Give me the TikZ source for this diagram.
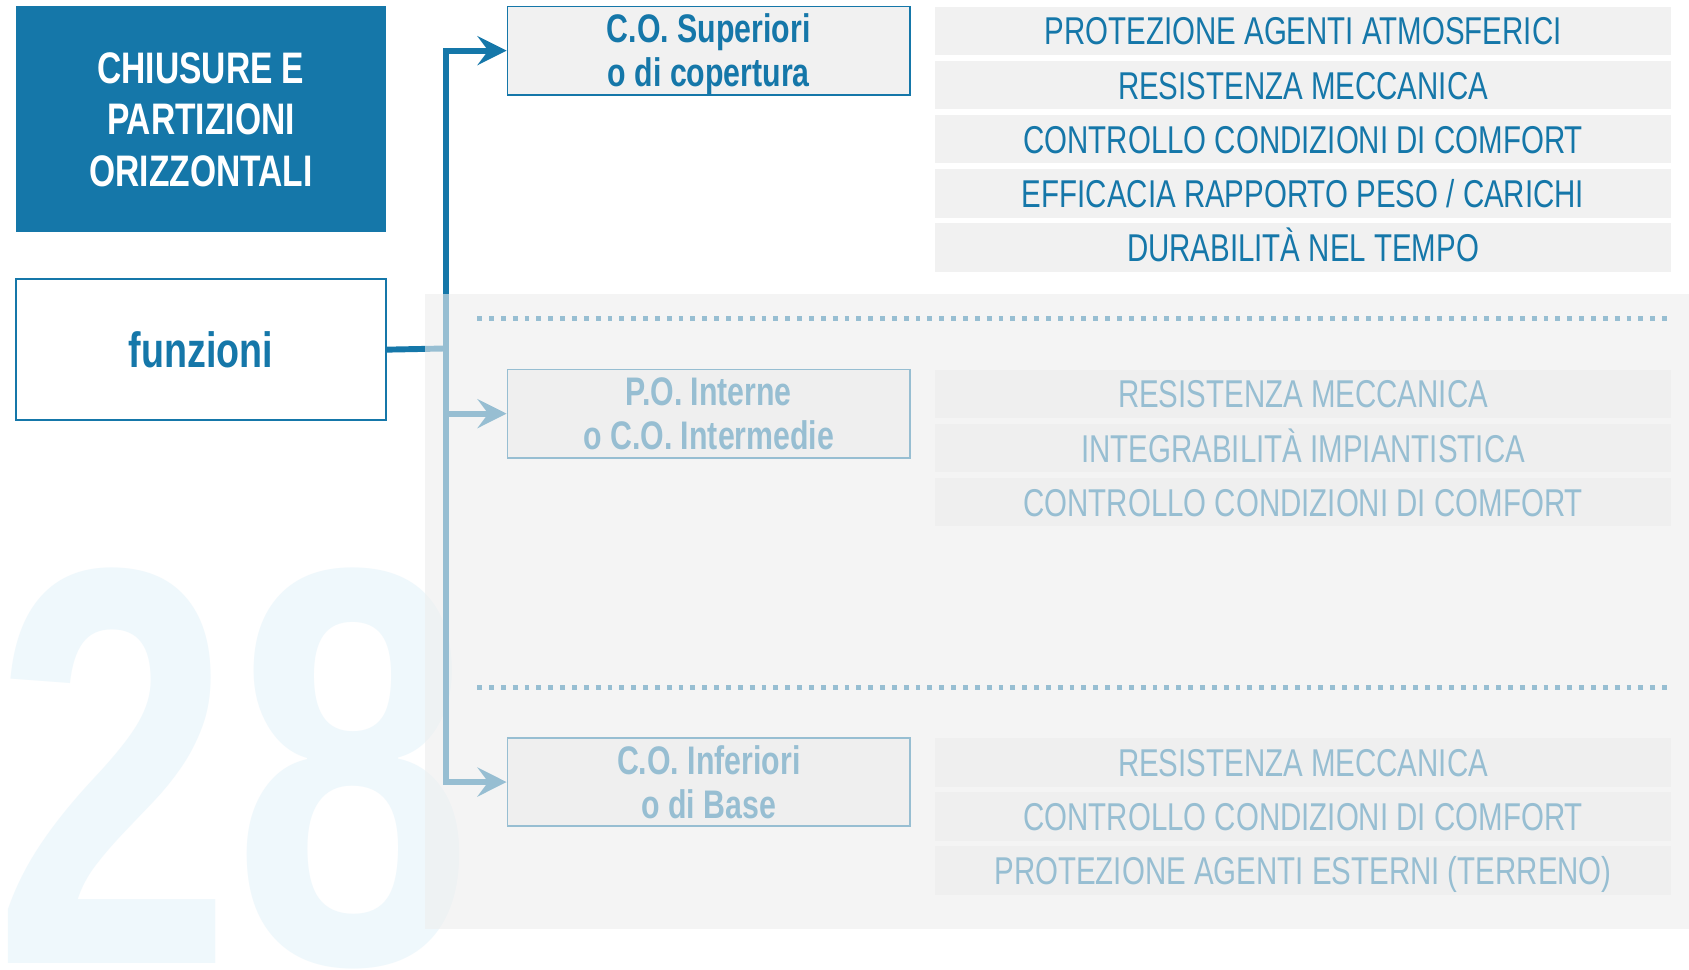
\documentclass[tikz,border=0pt]{standalone}
\usepackage{fontspec}
\newfontfamily\cond{Liberation Sans}[FakeStretch=0.76]
\usepackage{tikz}
\usetikzlibrary{matrix,positioning,arrows.meta}

\definecolor{cblue}{HTML}{1577A9}
\definecolor{cbox}{HTML}{F1F1F1}
\definecolor{veilc}{HTML}{EEEEEE}
\definecolor{wmarkc}{HTML}{EFF8FC}

\begin{document}
\begin{tikzpicture}[
x=1pt, y=-1pt,
titlebox/.style={
  fill=cblue,
  text=white,
  minimum width=343pt,
  minimum height=209pt,
  inner sep=0pt,
  align=center,
  font=\cond\bfseries\fontsize{41}{47.5}\selectfont,
  text height=124.4pt,
  text depth=0pt
  },
funbox/.style={
  draw=cblue,
  line width=1.8pt,
  fill=white,
  minimum width=343pt,
  minimum height=131pt,
  inner sep=0pt,
  text=cblue,
  font=\cond\bfseries\fontsize{46}{50}\selectfont,
  text height=33pt,
  text depth=0pt
  },
head/.style={
  draw=cblue,
  line width=1.5pt,
  fill=cbox,
  minimum width=374pt,
  minimum height=82pt,
  inner sep=0pt,
  align=center,
  text=cblue,
  font=\cond\bfseries\fontsize{37}{41}\selectfont,
  text height=67.5pt,
  text depth=0pt
  },
item/.style={
  fill=cbox,
  minimum width=683pt,
  minimum height=45pt,
  inner sep=0pt,
  text=cblue,
  font=\cond\fontsize{36}{40}\selectfont,
  text height=26pt,
  text depth=0pt
  },
list/.style={
  matrix of nodes,
  nodes={item},
  row sep=5.25pt,
  inner sep=0pt,
  anchor=north west
  },
link/.style={draw=cblue, line width=5.5pt},
dotline/.style={draw=cblue, line width=4.5pt, dash pattern=on 4.5pt off 6.5pt},
veil/.style={fill=veilc, fill opacity=0.6},
wmark/.style={
  anchor=base west,
  inner sep=0pt,
  text=wmarkc,
  font=\cond\bfseries\fontsize{526}{526}\selectfont
  },
>={Stealth[length=27pt,width=27pt,inset=10pt]}
]

\fill[white] (0,0) rectangle (1568,899.6);
\useasboundingbox (0,0) rectangle (1568,899.6);

\node[wmark] (num) at (-6,894) {28};

\node[titlebox] (tit) at (186.5,110.5) {CHIUSURE E\\PARTIZIONI\\ORIZZONTALI};
\node[funbox, below=43pt of tit] (fz) {funzioni};

\node[head] (sup) at (658,47) {C.O. Superiori\\o di copertura};
\node[head] (int) at (658,384) {P.O. Interne\\o C.O. Intermedie};
\node[head] (inf) at (658,726) {C.O. Inferiori\\o di Base};

\matrix[list] (supm) at (868,6)
{
PROTEZIONE AGENTI ATMOSFERICI \\
RESISTENZA MECCANICA \\
CONTROLLO CONDIZIONI DI COMFORT \\
EFFICACIA RAPPORTO PESO / CARICHI \\
DURABILITÀ NEL TEMPO \\
};
\matrix[list] (intm) at (868,343)
{
RESISTENZA MECCANICA \\
INTEGRABILITÀ IMPIANTISTICA \\
CONTROLLO CONDIZIONI DI COMFORT \\
};
\matrix[list] (infm) at (868,685)
{
RESISTENZA MECCANICA \\
CONTROLLO CONDIZIONI DI COMFORT \\
PROTEZIONE AGENTI ESTERNI (TERRENO) \\
};

\coordinate (jn) at (414,323.5);
\draw[link] (fz.east) -- (jn);
\foreach \b in {sup,int,inf}
  \draw[link,->] (jn) |- (\b.west);

\draw[dotline] (443,296) -- (1551,296);
\draw[dotline] (443,638) -- (1551,638);

\fill[veil] (395,273) rectangle (1568,862);
\end{tikzpicture}
\end{document}
